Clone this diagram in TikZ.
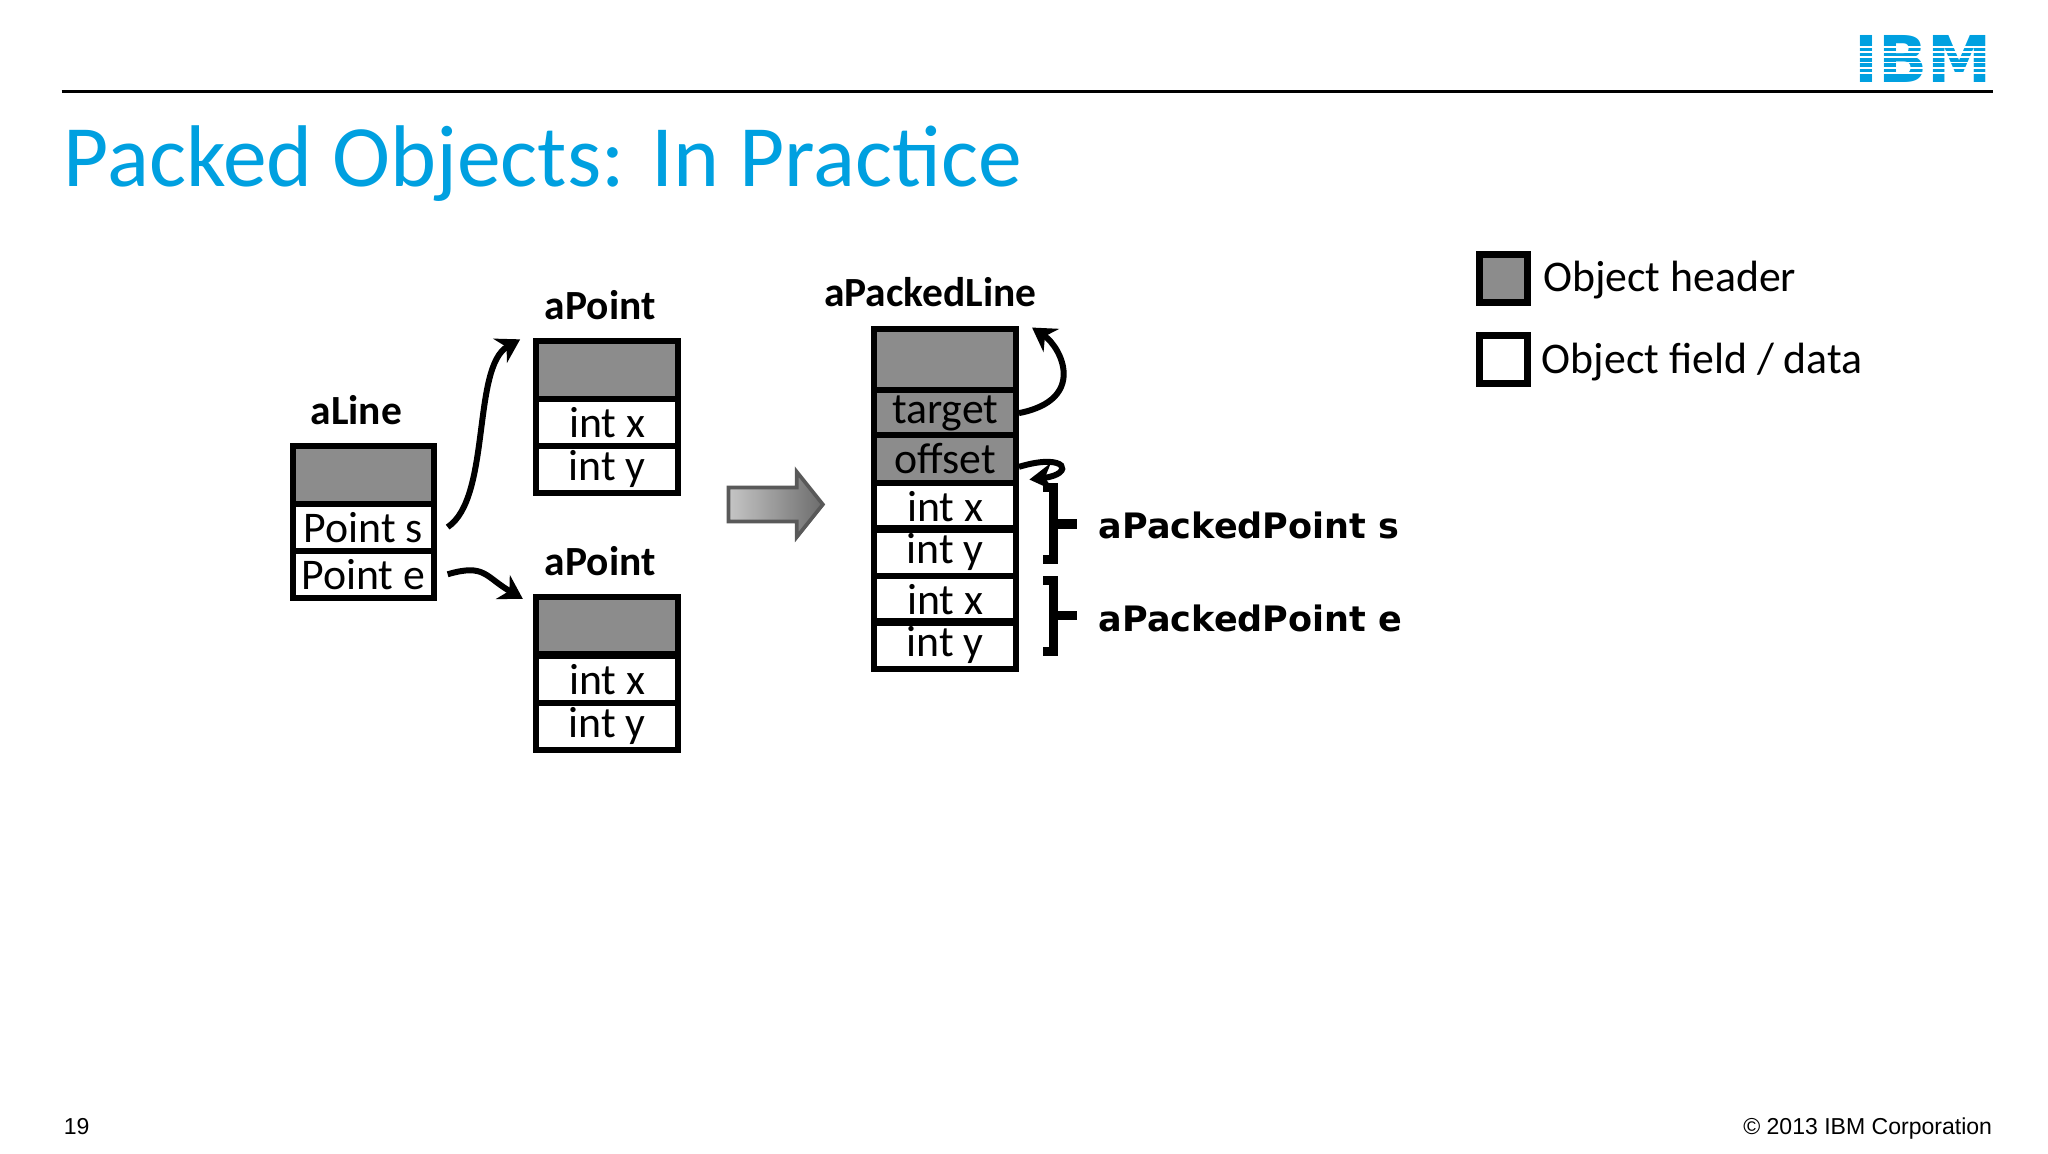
\documentclass[tikz,border=0pt]{standalone}
\usepackage{fontspec}
\setmainfont{Carlito}
\newfontfamily\vb{DejaVu Sans}
\newfontfamily\ar{Liberation Sans}
\usetikzlibrary{arrows.meta}
\definecolor{ibmblue}{RGB}{0,160,224}
\definecolor{hdr}{RGB}{140,140,140}
\begin{document}
\begin{tikzpicture}[x=0.01cm,y=-0.01cm,
  cell/.style={draw,line width=1.3pt,minimum width=1.08cm,minimum height=0.36cm,inner sep=0pt,font=\fontsize{9.5}{10}\selectfont,anchor=north west},
  hd/.style={cell,fill=hdr,minimum height=0.44cm},
  lbl/.style={font=\bfseries\fontsize{9}{10}\selectfont},
  con/.style={line width=1.3pt,-{Stealth[length=5pt,width=6pt]}},
  brk/.style={line width=2pt}]
\useasboundingbox (0,0) rectangle (1563,880);
% header
\draw[line width=0.6pt] (47,70) -- (1521,70);
\node[anchor=east,text=ibmblue,font=\vb\bfseries\fontsize{14}{14}\selectfont,inner sep=0pt] (ibm) at (1521,45) {IBM};
\foreach \yy in {35,39,43,47,51,55} \fill[white] (1415,\yy) rectangle (1525,\yy+1.3);
\node[anchor=base west,text=ibmblue,font=\fontsize{19}{20}\selectfont,inner sep=0pt] (title) at (48,142) {Packed Objects: In Practice};
\node[anchor=base west,font=\ar\fontsize{5}{6}\selectfont,inner sep=0pt] (pg) at (48,866) {19};
\node[anchor=base east,font=\ar\fontsize{5}{6}\selectfont,inner sep=0pt] (cp) at (1521,866) {\textcopyright{} 2013 IBM Corporation};
% aLine
\node[lbl] (lLine) at (272,313) {aLine};
\node[hd] (l0) at (221,338) {};
\node[cell] (l1) at (221,382) {Point s};
\node[cell] (l2) at (221,418) {Point e};
% aPoint top
\node[lbl] (lP1) at (458,233) {aPoint};
\node[hd] (p0) at (407,258) {};
\node[cell] (p1) at (407,302) {int x};
\node[cell] (p2) at (407,338) {int y};
% aPoint bottom
\node[lbl] (lP2) at (458,428) {aPoint};
\node[hd] (q0) at (407,453) {};
\node[cell] (q1) at (407,498) {int x};
\node[cell] (q2) at (407,534) {int y};
% aPackedLine
\node[lbl] (lPL) at (710,223) {aPackedLine};
\node[hd,minimum height=0.46cm] (k0) at (665,249) {};
\node[cell,fill=hdr] (k1) at (665,295) {target};
\node[cell,fill=hdr] (k2) at (665,330) {offset};
\node[cell] (k3) at (665,366) {int x};
\node[cell] (k4) at (665,401) {int y};
\node[cell] (k5) at (665,437) {int x};
\node[cell] (k6) at (665,472) {int y};
% connectors
\draw[con] ([xshift=0.08cm]l1.east) .. controls (375,380) and (360,280) .. ([xshift=-0.1cm,yshift=-0.01cm]p0.north west);
\draw[con] ([xshift=0.08cm]l2.east) .. controls (370,430) and (370,440) .. ([xshift=-0.08cm,yshift=0cm]q0.west |- 0,457);
\draw[con] (k1.east) .. controls (830,305) and (810,265) .. ([xshift=0.1cm,yshift=-0.01cm]k0.north east);
\draw[con] ([yshift=-0.06cm]k2.east) .. controls (815,345) and (820,362) .. ([xshift=0.08cm]k3.north east);
% big arrow
\shade[left color=gray!45,right color=gray!85!black,draw=gray!70!black,line width=0.8pt]
  (556,372) -- (608,372) -- (608,360) -- (628,385) -- (608,410) -- (608,398) -- (556,398) -- cycle;
% braces
\coordinate (b1) at (800,372);
\draw[brk] (796,372) -- (804,372) -- (804,427) -- (796,427) (804,400) -- (822,400);
\draw[brk] (796,443) -- (804,443) -- (804,497) -- (796,497) (804,470) -- (822,470);
\node[anchor=west,font=\vb\bfseries\fontsize{7.6}{9}\selectfont,inner sep=0pt] (s) at (838,401) {aPackedPoint s};
\node[anchor=west,font=\vb\bfseries\fontsize{7.6}{9}\selectfont,inner sep=0pt] (e) at (838,472) {aPackedPoint e};
% legend
\draw[line width=1.5pt,fill=hdr] (1129,194) rectangle (1166,231);
\draw[line width=1.5pt] (1129,256) rectangle (1166,293);
\node[anchor=west,font=\fontsize{9.5}{10}\selectfont,inner sep=0pt] (lg1) at (1177,214) {Object header};
\node[anchor=west,font=\fontsize{9.5}{10}\selectfont,inner sep=0pt] (lg2) at (1176,276) {Object field / data};
\end{tikzpicture}
\end{document}
